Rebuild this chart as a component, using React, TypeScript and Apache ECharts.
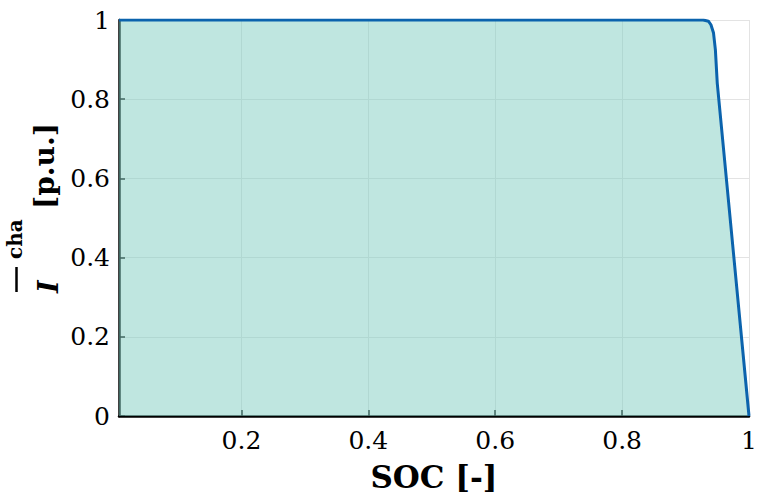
import React, { useEffect, useRef } from "react";
import * as echarts from "echarts";

const soc = [0.007, 0.928, 0.936, 0.94, 0.944, 0.947, 0.95, 1.0];
const current = [1, 1, 0.997, 0.988, 0.968, 0.925, 0.84, 0];
const xTicks = [0.2, 0.4, 0.6, 0.8, 1];

const SERIF = "DejaVu Serif";

export default function App() {
  const ref = useRef<HTMLDivElement>(null);
  useEffect(() => {
    if (!ref.current) return;
    const chart = echarts.init(ref.current, null, { renderer: "svg" });
    const data = soc.map((s, i) => [s, current[i]]);
    const txt = (text: string, x: number, y: number, size: number, style: string, weight: string) => ({
      type: "text",
      x,
      y,
      style: {
        text,
        fontFamily: SERIF,
        fontSize: size,
        fontStyle: style,
        fontWeight: weight,
        fill: "#000",
        textAlign: "left",
        textVerticalAlign: "middle",
        align: "left",
        verticalAlign: "middle",
      },
    });
    chart.setOption({
      animation: false,
      backgroundColor: "#ffffff",
      grid: { left: 119, right: 10, top: 20, bottom: 88, containLabel: false, outerBoundsMode: "none" },
      xAxis: {
        type: "value",
        min: 0.007,
        max: 1,
        name: "SOC [-]",
        nameLocation: "middle",
        nameGap: 45,
        nameTextStyle: { fontFamily: SERIF, fontWeight: "bold", fontSize: 31, color: "#000" },
        axisLine: { show: true, onZero: false, lineStyle: { color: "#000", width: 2.5 } },
        axisTick: { show: true, inside: true, length: 6, customValues: xTicks, lineStyle: { color: "#000", width: 1.5 } },
        axisLabel: { customValues: xTicks, fontFamily: SERIF, fontSize: 25, color: "#000", margin: 12 },
        splitLine: { show: true, lineStyle: { color: "#e3e3e3", width: 1 } },
      },
      yAxis: {
        type: "value",
        min: 0,
        max: 1,
        interval: 0.2,
        axisLine: { show: true, lineStyle: { color: "#000", width: 2.5 } },
        axisTick: { show: true, inside: true, length: 6, lineStyle: { color: "#000", width: 1.5 } },
        axisLabel: { fontFamily: SERIF, fontSize: 25, color: "#000", margin: 9 },
        splitLine: { show: true, lineStyle: { color: "#e3e3e3", width: 1 } },
      },
      graphic: [
        {
          type: "group",
          x: 58,
          y: 293,
          rotation: Math.PI / 2,
          children: [
            txt("I", 0, -9.3, 27, "italic", "bold"),
            {
              type: "line",
              shape: { x1: 1, y1: -41.5, x2: 26, y2: -41.5 },
              style: { stroke: "#000", lineWidth: 2.5 },
            },
            txt("cha", 34, -43, 20, "normal", "bold"),
            txt("[p.u.]", 84, -14, 28, "normal", "bold"),
          ],
        },
      ],
      series: [
        {
          type: "line",
          data,
          showSymbol: false,
          smooth: false,
          lineStyle: { color: "#0b63ad", width: 3 },
          areaStyle: { color: "#80cdc1", opacity: 0.5 },
          clip: true,
        },
      ],
    });
    return () => chart.dispose();
  }, []);
  return <div ref={ref} style={{ width: 759, height: 504, position: "absolute", left: 0, top: 0 }} />;
}
